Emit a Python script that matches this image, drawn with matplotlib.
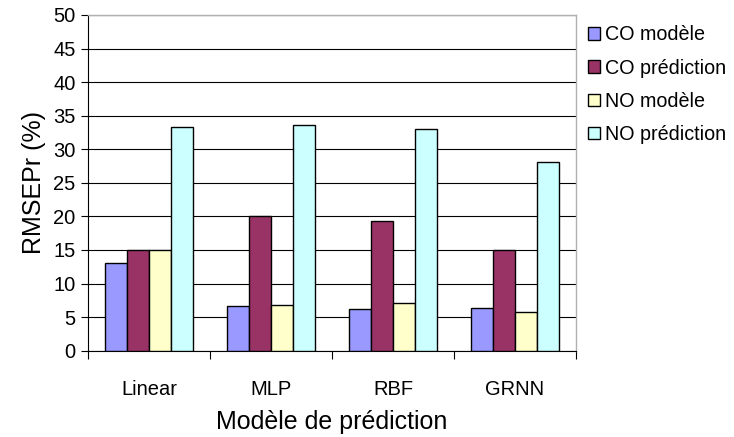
import numpy as np
import matplotlib
matplotlib.use("Agg")
import matplotlib.pyplot as plt

plt.rcParams['font.family'] = ['Liberation Sans', 'DejaVu Sans']

categories = ['Linear', 'MLP', 'RBF', 'GRNN']
series_names = ['CO modèle', 'CO prédiction', 'NO modèle', 'NO prédiction']
co_modele = [13.1, 6.6, 6.2, 6.3]
co_prediction = [15.0, 20.0, 19.3, 15.0]
no_modele = [15.0, 6.8, 7.1, 5.7]
no_prediction = [33.3, 33.6, 33.0, 28.1]
colors = ['#9999FF', '#993366', '#FFFFCC', '#CCFFFF']

values = [co_modele, co_prediction, no_modele, no_prediction]

fig = plt.figure(figsize=(7.34, 4.37), dpi=100)
ax = fig.add_axes([0.1199, 0.1975, 0.6648, 0.7682])

x = np.arange(len(categories))
w = 1 / 5.5
for i, (vals, name, c) in enumerate(zip(values, series_names, colors)):
    ax.bar(x + (i - 1.5) * w, vals, w, color=c, edgecolor='black',
           linewidth=1.0, label=name, zorder=3)

ax.set_xlim(-0.5, len(categories) - 0.5)
ax.set_ylim(0, 50)
ax.set_yticks(np.arange(0, 51, 5))
ax.yaxis.grid(True, color='black', linewidth=0.8, zorder=0)
ax.tick_params(axis='y', direction='out', length=5, width=0.8, labelsize=14.5, pad=4)

ax.set_xticks(x)
ax.set_xticklabels(categories)
ax.set_xticks(np.arange(-0.5, len(categories), 1), minor=True)
ax.tick_params(axis='x', which='major', length=0, labelsize=14.5, pad=21)
ax.tick_params(axis='x', which='minor', direction='out', length=6, width=0.8)

for s in ['top', 'right']:
    ax.spines[s].set_color('#B0B0B0')
    ax.spines[s].set_linewidth(1.0)
for s in ['left', 'bottom']:
    ax.spines[s].set_color('black')
    ax.spines[s].set_linewidth(0.8)

ax.set_ylabel('RMSEPr (%)', fontsize=18, labelpad=5)
ax.set_xlabel('Modèle de prédiction', fontsize=18, labelpad=8)

ax.legend(loc='upper left', bbox_to_anchor=(0.79, 0.96), bbox_transform=fig.transFigure,
          frameon=False, fontsize=14.2, handlelength=0.6, handleheight=0.6,
          handletextpad=0.25, labelspacing=0.72, borderaxespad=0)

fig.savefig('out.png', dpi=100)
